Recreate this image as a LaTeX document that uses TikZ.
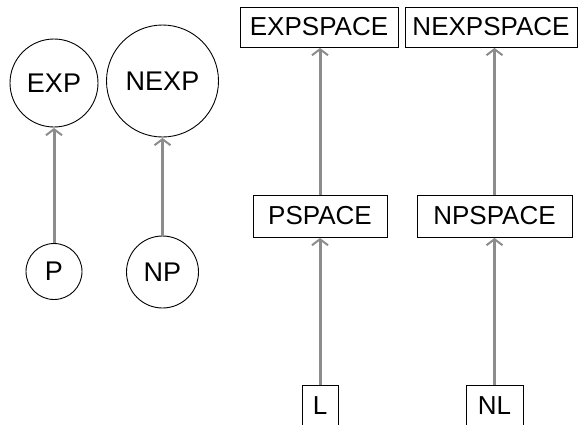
\documentclass[tikz,border=0pt]{standalone}
\usepackage{fontspec}
\setmainfont{Liberation Sans}
\usetikzlibrary{arrows.meta}
\definecolor{linkgray}{RGB}{140,140,140}
\tikzset{
  cls/.style={font=\fontsize{26}{30}\selectfont, text=black, inner sep=0pt},
  classcircle/.style={cls, font=\fontsize{27}{31}\selectfont, circle, draw=black, line width=0.9pt},
  classbox/.style={cls, rectangle, draw=black, line width=0.9pt, minimum height=40pt},
  incl/.style={draw=linkgray, line width=3pt,
    -{Straight Barb[length=6pt,width=16pt,line width=2pt]}, shorten >=0.5pt},
}
\begin{document}
\begin{tikzpicture}[x=1pt,y=-1pt]
  \useasboundingbox (0,0) rectangle (581,424);
  \clip (0,0) rectangle (581,424);

  % time classes
  \node[classcircle, minimum size=88pt]  (exp)  at (54,83)    {EXP};
  \node[classcircle, minimum size=112pt] (nexp) at (162.5,81) {NEXP};
  \node[classcircle, minimum size=56pt]  (p)    at (54,271.5) {P};
  \node[classcircle, minimum size=72pt]  (np)   at (162.5,272){NP};

  % space classes
  \node[classbox, minimum width=158pt] (expspace)  at (319,27)    {EXPSPACE};
  \node[classbox, minimum width=172pt] (nexpspace) at (491,27)    {NEXPSPACE};
  \node[classbox, minimum width=134pt, minimum height=42pt] (pspace)  at (320,216)   {PSPACE};
  \node[classbox, minimum width=155pt, minimum height=42pt] (npspace) at (494.5,216) {NPSPACE};
  \node[classbox, minimum width=36pt]  (l)  at (320,405.5)   {L};
  \node[classbox, minimum width=57pt]  (nl) at (494.5,405.5) {NL};

  % inclusions
  \draw[incl] (p) -- (exp);
  \draw[incl] (np) -- (nexp);
  \draw[incl] (l.north) -- (pspace.south);
  \draw[incl] (pspace.north) -- (pspace.north |- expspace.south);
  \draw[incl] (nl.north) -- (npspace.south);
  \draw[incl] (npspace.north) -- (npspace.north |- nexpspace.south);
\end{tikzpicture}
\end{document}
